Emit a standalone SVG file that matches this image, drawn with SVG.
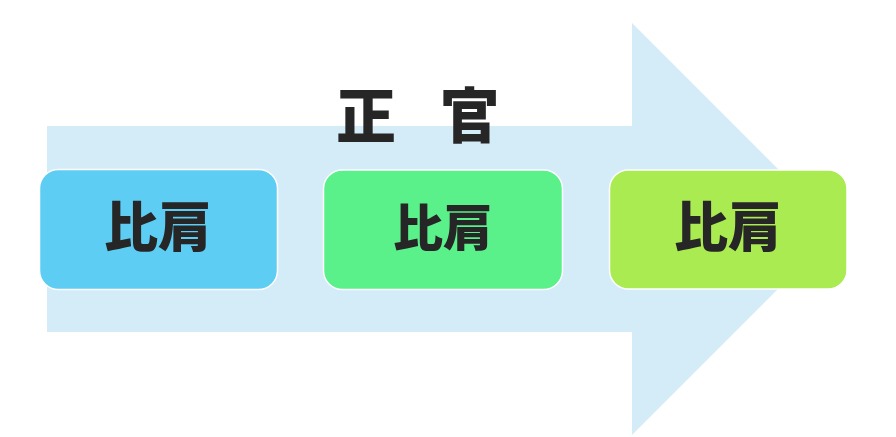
<svg xmlns="http://www.w3.org/2000/svg" width="896" height="437" viewBox="0 0 896 437">
<style>
.box{stroke:#ffffff;stroke-width:1.5}
.lbl{font-family:"Noto Sans CJK JP","Noto Sans CJK SC",sans-serif;font-weight:900;fill:#262626;text-anchor:middle}
.ttl{font-family:"Noto Sans CJK JP","Noto Sans CJK SC",sans-serif;font-weight:900;fill:#262626}
</style>
<rect width="896" height="437" fill="#ffffff"/>
<g id="connectors">
<polygon id="arrow" points="47,126 632,126 632,23 838,229 632,435 632,332 47,332" fill="#D4EBF8"/>
</g>
<g id="title">
<text class="ttl" x="336" y="138" font-size="60" letter-spacing="15">正 官</text>
</g>
<g id="node1">
<rect class="box" x="39.5" y="169.5" width="238" height="120" rx="19" fill="#5ECDF4"/>
<text class="lbl" x="158" y="247" font-size="54">比肩</text>
</g>
<g id="node2">
<rect class="box" x="323.5" y="170" width="239" height="119.5" rx="19" fill="#5AF18B"/>
<text class="lbl" x="443" y="245.5" font-size="50">比肩</text>
</g>
<g id="node3">
<rect class="box" x="609.5" y="170" width="237.5" height="119" rx="19" fill="#A9EB51"/>
<text class="lbl" x="728" y="247" font-size="54">比肩</text>
</g>
</svg>
